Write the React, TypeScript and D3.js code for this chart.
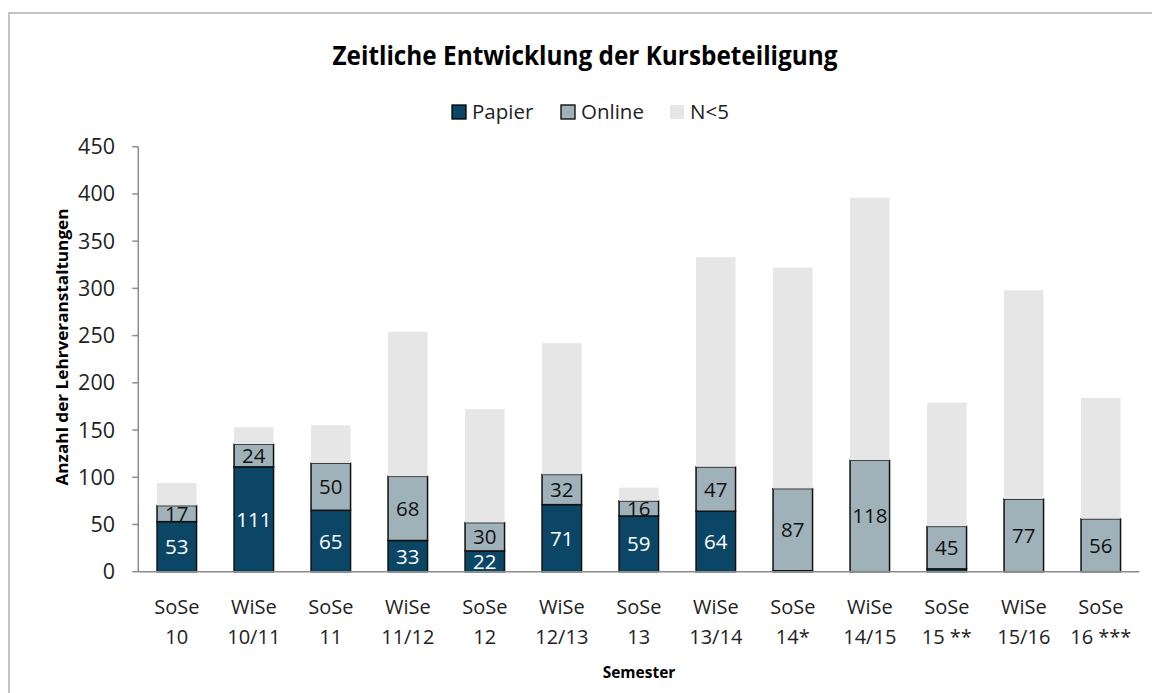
import React from "react";
import * as d3 from "d3";

const categories = ["SoSe 10", "WiSe 10/11", "SoSe 11", "WiSe 11/12", "SoSe 12", "WiSe 12/13", "SoSe 13", "WiSe 13/14", "SoSe 14*", "WiSe 14/15", "SoSe 15 **", "WiSe 15/16", "SoSe 16 ***"];
const papier = [53, 111, 65, 33, 22, 71, 59, 64, 1, 0, 3, 0, 0];
const online = [17, 24, 50, 68, 30, 32, 16, 47, 87, 118, 45, 77, 56];
const nUnder5 = [24, 18, 40, 153, 120, 139, 14, 222, 234, 278, 131, 221, 128];
const showPapierLabel = [true, true, true, true, true, true, true, true, false, false, false, false, false];
const yTicks = [0, 50, 100, 150, 200, 250, 300, 350, 400, 450];
const seriesNames = ["Papier", "Online", "N<5"];

const COLORS = ["#0b4666", "#a0b2b9", "#e6e6e6"];
const FONT = "'Open Sans', 'Noto Sans', sans-serif";

export default function App() {
  const left = 138.3;
  const right = 1139.3;
  const y0 = 571.7;
  const yTop = 146.7;

  const x = d3.scaleBand<string>().domain(categories).range([left, right]).paddingInner(0.487).paddingOuter(0.2435);
  const y = d3.scaleLinear().domain([0, 450]).range([y0, yTop]);

  const rows = categories.map((c, i) => ({ cat: c, Papier: papier[i], Online: online[i], "N<5": nUnder5[i] }));
  const stacked = d3.stack<any>().keys(seriesNames)(rows);

  const bw = x.bandwidth();

  return (
    <svg width={1152} height={693} style={{ position: "absolute", left: 0, top: 0, background: "#fff" }} fontFamily={FONT}>
      <rect x={0} y={0} width={1152} height={693} fill="#fff" />
      <rect x={9} y={13} width={1200} height={720} fill="none" stroke="#b4b4b4" strokeWidth={1.6} />

      {/* title */}
      <text x={585} y={65} textAnchor="middle" fontSize={27} fontWeight="bold" fill="#000" textLength={505} lengthAdjust="spacingAndGlyphs">
        Zeitliche Entwicklung der Kursbeteiligung
      </text>

      {/* legend */}
      {(() => {
        const items = [
          { name: "Papier", x: 452, color: COLORS[0], stroke: "#000" },
          { name: "Online", x: 561, color: COLORS[1], stroke: "#000" },
          { name: "N<5", x: 670, color: COLORS[2], stroke: "none" },
        ];
        return items.map((it) => (
          <g key={it.name}>
            <rect x={it.x} y={105} width={14} height={14} fill={it.color} stroke={it.stroke} strokeWidth={1.3} />
            <text x={it.x + 20} y={119} fontSize={20.5} fill="#222">{it.name}</text>
          </g>
        ));
      })()}

      {/* y axis */}
      <line x1={left} x2={left} y1={yTop} y2={y0} stroke="#8c8c8c" strokeWidth={1.5} />
      {yTicks.map((t) => (
        <g key={t}>
          <line x1={left - 6} x2={left} y1={y(t)} y2={y(t)} stroke="#8c8c8c" strokeWidth={1.5} />
          <text x={115} y={y(t) + 7.5} textAnchor="end" fontSize={21.5} fill="#222">{t}</text>
        </g>
      ))}
      <text transform={`translate(68,347) rotate(-90)`} textAnchor="middle" fontSize={16.5} fontWeight="bold" fill="#000" textLength={277} lengthAdjust="spacingAndGlyphs">
        Anzahl der Lehrveranstaltungen
      </text>

      {/* bars */}
      {stacked.map((s, si) => (
        <g key={s.key}>
          {s.map((d, i) => {
            const h = y(d[0]) - y(d[1]);
            if (h <= 0) return null;
            return (
              <rect
                key={i}
                x={x(categories[i])!}
                y={y(d[1])}
                width={bw}
                height={h}
                fill={COLORS[si]}
                stroke={si < 2 ? "#111" : "none"}
                strokeWidth={si < 2 ? 1.5 : 0}
              />
            );
          })}
        </g>
      ))}

      {/* data labels */}
      {stacked[0].map((d, i) =>
        showPapierLabel[i] ? (
          <text key={"p" + i} x={x(categories[i])! + bw / 2} y={(y(d[0]) + y(d[1])) / 2 + 7.5} textAnchor="middle" fontSize={20.5} fill="#fff">
            {papier[i]}
          </text>
        ) : null
      )}
      {stacked[1].map((d, i) => (
        <text key={"o" + i} x={x(categories[i])! + bw / 2} y={(y(d[0]) + y(d[1])) / 2 + 7.5} textAnchor="middle" fontSize={20.5} fill="#111">
          {online[i]}
        </text>
      ))}

      {/* x axis */}
      <line x1={left} x2={right} y1={y0} y2={y0} stroke="#8c8c8c" strokeWidth={1.5} />
      {categories.map((c) => {
        const idx = c.indexOf(" ");
        const l1 = c.slice(0, idx);
        const l2 = c.slice(idx + 1);
        const cx = x(c)! + bw / 2;
        return (
          <g key={c}>
            <text x={cx} y={614} textAnchor="middle" fontSize={20} fill="#222">{l1}</text>
            <text x={cx} y={644} textAnchor="middle" fontSize={20} fill="#222">{l2}</text>
          </g>
        );
      })}
      <text x={639} y={678} textAnchor="middle" fontSize={15.5} fontWeight="bold" fill="#000">Semester</text>
    </svg>
  );
}
